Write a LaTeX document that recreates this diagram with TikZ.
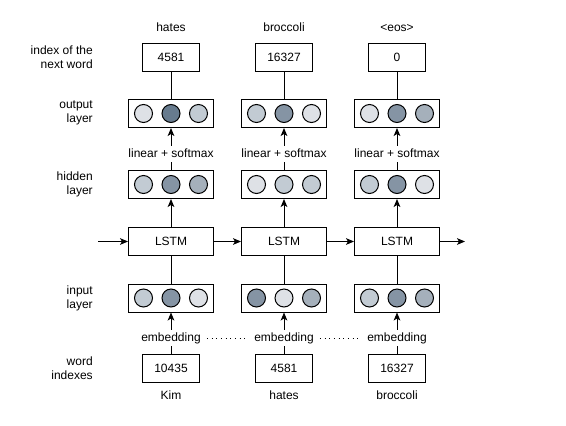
\documentclass[tikz,border=0pt]{standalone}
\usepackage{fontspec}
\setmainfont{Liberation Sans}
\usetikzlibrary{arrows.meta}
\definecolor{cA}{HTML}{DEE1E6}
\definecolor{cB}{HTML}{C2CBD3}
\definecolor{cC}{HTML}{A5B0BB}
\definecolor{cD}{HTML}{8594A4}
\definecolor{cE}{HTML}{677B8E}
\tikzset{
  every node/.style={font=\fontsize{9}{10.5}\selectfont},
  layerbox/.style={draw, line width=0.75pt, minimum width=63.75pt, minimum height=21pt, inner sep=0pt},
  idxbox/.style={draw, line width=0.75pt, minimum width=42.75pt, minimum height=21pt, inner sep=0pt},
  unit/.style={draw, circle, line width=0.75pt, minimum size=13.5pt, inner sep=0pt},
  lbl/.style={inner sep=1.5pt, text height=7pt, text depth=2pt},
  side/.style={anchor=east, align=right, inner sep=0pt},
  conn/.style={line width=0.75pt},
  arr/.style={line width=0.75pt, -{Stealth[length=6pt,width=5pt,inset=1.5pt]}},
  dots/.style={line width=0.6pt, dash pattern=on 0.7pt off 2.8pt, shorten <=3pt, shorten >=3pt},
}
\begin{document}
\begin{tikzpicture}[x=0.75pt, y=-0.75pt]
\useasboundingbox (0,0) rectangle (566,425);
% side labels
\node[side] (s1) at (93,57) {index of the\\next word};
\node[side] (s2) at (93,113) {output\\layer};
\node[side] (s3) at (93,184) {hidden\\layer};
\node[side] (s4) at (93,298) {input\\layer};
\node[side] (s5) at (93,368) {word\\indexes};

% columns
\foreach \i/\x/\top/\tw/\bw/\bt/\oa/\ob/\oc/\ha/\hb/\hc/\ia/\ib/\ic in {
  1/171/4581/hates/Kim/10435/cA/cE/cB/cB/cD/cC/cB/cD/cA,
  2/284/16327/broccoli/hates/4581/cB/cD/cA/cA/cB/cB/cD/cA/cC,
  3/397/0/{<eos>}/broccoli/16327/cA/cD/cC/cB/cD/cA/cB/cD/cC}{
  \node[lbl] (tw\i) at (\x,28) {\tw};
  \node[idxbox] (top\i) at (\x,57) {\top};
  \node[layerbox] (out\i) at (\x,113.5) {};
  \node[unit, fill=\oa] (oa\i) at (\x-27.5,113.5) {};
  \node[unit, fill=\ob] (ob\i) at (\x,113.5) {};
  \node[unit, fill=\oc] (oc\i) at (\x+27.5,113.5) {};
  \node[lbl] (lin\i) at (\x,154) {linear + softmax};
  \node[layerbox] (hid\i) at (\x,184.5) {};
  \node[unit, fill=\ha] (ha\i) at (\x-27.5,184.5) {};
  \node[unit, fill=\hb] (hb\i) at (\x,184.5) {};
  \node[unit, fill=\hc] (hc\i) at (\x+27.5,184.5) {};
  \node[layerbox] (lstm\i) at (\x,241.5) {LSTM};
  \node[layerbox] (inp\i) at (\x,298) {};
  \node[unit, fill=\ia] (ia\i) at (\x-27.5,298) {};
  \node[unit, fill=\ib] (ib\i) at (\x,298) {};
  \node[unit, fill=\ic] (ic\i) at (\x+27.5,298) {};
  \node[lbl] (emb\i) at (\x,338) {embedding};
  \node[idxbox] (wi\i) at (\x,368) {\bt};
  \node[lbl] (bw\i) at (\x,396) {\bw};
  \draw[conn] (top\i) -- (out\i);
  \draw[arr] (lin\i) -- (out\i);
  \draw[conn] (hid\i) -- (lin\i);
  \draw[arr] (lstm\i) -- (hid\i);
  \draw[conn] (inp\i) -- (lstm\i);
  \draw[arr] (emb\i) -- (inp\i);
  \draw[conn] (wi\i) -- (emb\i);
}
\coordinate (lin) at (98,241.5);
\coordinate (lout) at (465,241.5);
\draw[arr] (lin) -- (lstm1);
\draw[arr] (lstm1) -- (lstm2);
\draw[arr] (lstm2) -- (lstm3);
\draw[arr] (lstm3) -- (lout);
\draw[dots] (emb1) -- (emb2);
\draw[dots] (emb2) -- (emb3);
\end{tikzpicture}
\end{document}
